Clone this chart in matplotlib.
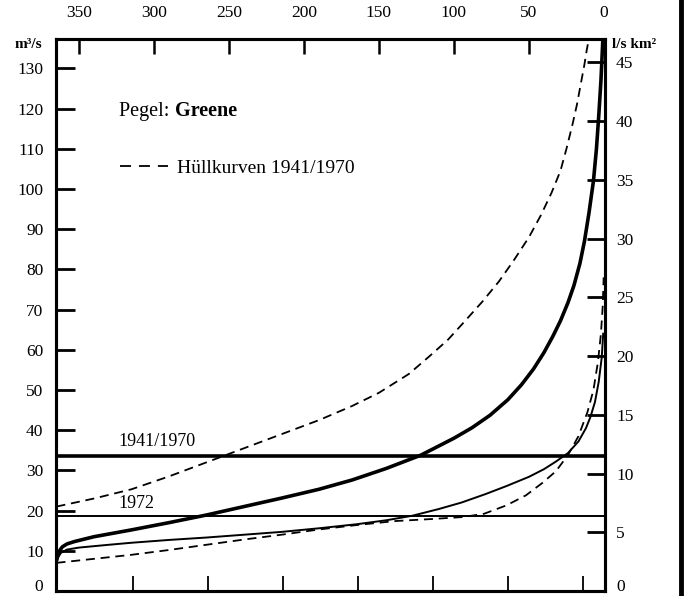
import matplotlib
matplotlib.use("Agg")
import matplotlib.pyplot as plt
from matplotlib.lines import Line2D

plt.rcParams["font.family"] = ["Liberation Serif", "DejaVu Serif"]

# Dauerlinien Pegel Greene: Tage (Unterschreitung) gegen Abfluss m3/s
DAY_TICKS = [350, 300, 250, 200, 150, 100, 50, 0]
BOTTOM_TICKS = [314, 264, 214, 164, 114, 64, 14]
Q_TICKS = list(range(0, 140, 10))
MQ_TICKS = list(range(0, 50, 5))

# mittlere Dauerlinie 1941/1970 (dick)
mean_days = [365, 364, 363, 361, 358, 353, 340, 315, 290, 265, 240, 215, 190,
             168, 145, 122, 100, 88, 76, 64, 55, 47, 40, 34, 29, 24, 20, 16,
             13, 10, 7, 5, 3.5, 2, 0.7]
mean_q = [7.5, 9, 10, 11, 11.7, 12.3, 13.5, 15.2, 17, 18.9, 21, 23.1, 25.3,
          27.6, 30.5, 33.8, 38, 40.6, 43.7, 47.6, 51.3, 55.2, 59.3, 63.4, 67.2,
          71.7, 76, 81.5, 87, 94, 102, 110, 118, 127, 137.4]

# Dauerlinie 1972 (duenn)
y1972_days = [365, 364, 362, 358, 350, 330, 315, 290, 265, 240, 215, 190, 165,
              145, 128, 110, 95, 79, 65, 50, 40, 32, 24, 17, 12, 9, 6, 3.5, 1.5, 0.5]
y1972_q = [7, 8.3, 9.5, 10.3, 10.8, 11.5, 12, 12.7, 13.3, 14, 14.7, 15.6, 16.6,
           17.6, 18.7, 20.4, 22, 24.1, 26.1, 28.4, 30.3, 32.2, 34.3, 37.2, 40.5,
           43.3, 47, 52, 58, 64]

# Huellkurven 1941/1970
upper_days = [365, 340, 315, 290, 265, 240, 215, 190, 168, 150, 130, 116, 104,
              93, 81, 70, 60, 50, 42, 35, 29, 25, 21, 18, 15, 13, 11.5, 10]
upper_q = [21, 23, 25.3, 28.5, 32, 35.5, 39, 42.5, 46, 49.3, 54, 58.5, 62.5,
           67, 72, 77, 82.3, 88, 93.5, 99, 104.5, 110, 116, 121, 127, 131, 134.5, 137.4]

lower_days = [365, 355, 340, 315, 290, 265, 240, 215, 190, 165, 139, 115, 94,
              80, 65, 52, 41, 32, 24, 17, 11, 7, 4, 2, 0.8, 0.2]
lower_q = [7, 7.4, 8, 9, 10.2, 11.5, 12.8, 14, 15.3, 16.4, 17.4, 17.9, 18.4,
           19.2, 21.3, 23.8, 26.9, 29.8, 33.8, 38.5, 44.5, 50, 57, 64, 71, 78]

# Mittelwasser
MQ_1941_1970 = 33.6
MQ_1972 = 18.7

fig = plt.figure(figsize=(6.86, 5.96), dpi=100)
ax = fig.add_axes([56 / 686, 5 / 596, 549 / 686, 552 / 596])

dash = (0, (5, 3.2))
ax.plot(upper_days, upper_q, color="black", lw=1.3, linestyle=dash)
ax.plot(lower_days, lower_q, color="black", lw=1.3, linestyle=dash)
ax.plot(y1972_days, y1972_q, color="black", lw=1.4)
ax.plot(mean_days, mean_q, color="black", lw=2.6, solid_capstyle="round")

ax.axhline(MQ_1941_1970, color="black", lw=2.6)
ax.axhline(MQ_1972, color="black", lw=1.4)

ax.text(324, MQ_1941_1970 + 1.4, "1941/1970", fontsize=13, ha="left", va="bottom")
ax.text(324, MQ_1972 + 1.0, "1972", fontsize=13, ha="left", va="bottom")

ax.set_xlim(365.3, -0.7)
ax.set_ylim(0, 137.3)

# obere Tagesachse
ax.set_xticks(DAY_TICKS)
ax.tick_params(axis="x", top=True, labeltop=True, bottom=False, labelbottom=False,
               direction="in", length=11, width=1.8, pad=13, labelsize=12.5)
ax.set_yticks(Q_TICKS)
ax.tick_params(axis="y", direction="in", length=14, width=2, pad=9, labelsize=12.5)

sec = ax.secondary_xaxis("bottom")
sec.set_xticks(BOTTOM_TICKS, labels=[""] * len(BOTTOM_TICKS))
sec.tick_params(direction="in", length=11, width=1.3)
sec.spines["bottom"].set_visible(False)

ax2 = ax.twinx()
ax2.set_ylim(0, 47.0)
ax2.set_yticks(MQ_TICKS)
ax2.tick_params(axis="y", direction="in", length=13, width=2, pad=8, labelsize=12.5)

# Nullbeschriftung auf die Grundlinie setzen, damit sie im Bild bleibt
for a in (ax, ax2):
    a.get_yticklabels()[0].set_va("baseline")
    for s in a.spines.values():
        s.set_linewidth(2.2)

pegel = ax.text(0.115, 0.86, "Pegel: ", transform=ax.transAxes, fontsize=14.5,
                ha="left", va="baseline")
ax.annotate("Greene", xy=(1, 0), xycoords=pegel, fontsize=14.5,
            fontweight="bold", ha="left", va="bottom")

handle = Line2D([], [], color="black", lw=1.3, linestyle=(0, (6.1, 4.4)))
ax.legend([handle], ["Hüllkurven 1941/1970"], loc="center left",
          bbox_to_anchor=(0.116, 0.766), frameon=False, fontsize=14,
          handlelength=2.5, handletextpad=0.45, borderpad=0, borderaxespad=0)

fig.text(15 / 686, 1 - 44 / 596, "m³/s", fontsize=11, fontweight="bold",
         ha="left", va="center")
fig.text(612 / 686, 1 - 44 / 596, "l/s km²", fontsize=11, fontweight="bold",
         ha="left", va="center")

# Seitenrand rechts
fig.add_artist(Line2D([681 / 686, 681 / 686], [0, 1], transform=fig.transFigure,
                      color="black", lw=3.5))

fig.savefig("out.png", dpi=100)
